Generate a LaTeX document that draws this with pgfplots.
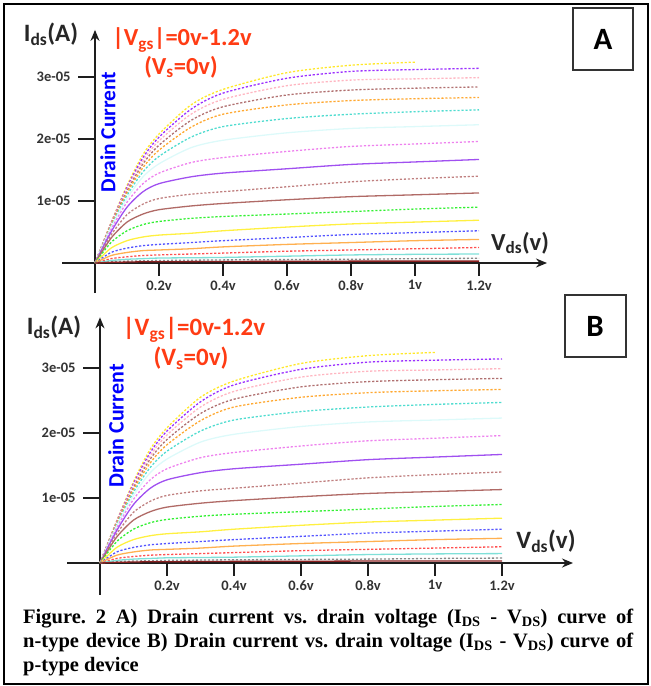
\documentclass[border=0pt]{standalone}
\usepackage{pgfplots}
\pgfplotsset{compat=1.18}
\usepackage{pgfplotstable}
\usepackage{fontspec}
\setmainfont{Carlito}
\newfontfamily\capfont{Liberation Serif}
\usetikzlibrary{arrows.meta}

\definecolor{k1}{HTML}{FFE82A}
\definecolor{k2}{HTML}{9B30FF}
\definecolor{k3}{HTML}{FFB6C1}
\definecolor{k4}{HTML}{B07070}
\definecolor{k5}{HTML}{FFA830}
\definecolor{k6}{HTML}{50DCD0}
\definecolor{k7}{HTML}{DDFAFA}
\definecolor{k8}{HTML}{EE82EE}
\definecolor{k9}{HTML}{A050F0}
\definecolor{k10}{HTML}{C08080}
\definecolor{k11}{HTML}{B06A66}
\definecolor{k12}{HTML}{33F033}
\definecolor{k13}{HTML}{FFF040}
\definecolor{k14}{HTML}{5555FF}
\definecolor{k15}{HTML}{FFB050}
\definecolor{k16}{HTML}{FF5050}
\definecolor{k17}{HTML}{7FE0D8}
\definecolor{k18}{HTML}{888888}
\definecolor{k19}{HTML}{8B2020}
\definecolor{redtxt}{HTML}{FF3C14}
\definecolor{axgray}{HTML}{1E1E1E}

% drain current in units of 1e-05 A
\pgfplotstableread{
vds  c1   c2   c3   c4   c5   c6   c7   c8   c9   c10  c11  c12  c13  c14  c15  c16   c17   c18   c19
0    0    0    0    0    0    0    0    0    0    0    0    0    0    0    0    0     0     0     0
0.05 0.65 0.64 0.63 0.62 0.61 0.59 0.57 0.54 0.50 0.45 0.40 0.33 0.24 0.17 0.12 0.07  0.04  0.02  0.01
0.1  1.25 1.22 1.19 1.16 1.13 1.09 1.04 0.98 0.90 0.78 0.66 0.52 0.36 0.24 0.17 0.10  0.06  0.03  0.015
0.15 1.75 1.70 1.65 1.60 1.54 1.47 1.39 1.28 1.15 0.95 0.79 0.62 0.42 0.28 0.20 0.12  0.07  0.035 0.02
0.2  2.08 2.03 1.97 1.90 1.82 1.72 1.60 1.45 1.28 1.04 0.86 0.67 0.45 0.30 0.21 0.13  0.08  0.04  0.02
0.3  2.55 2.48 2.40 2.30 2.19 2.03 1.86 1.62 1.39 1.11 0.92 0.72 0.48 0.33 0.23 0.145 0.085 0.045 0.022
0.4  2.80 2.74 2.64 2.52 2.40 2.20 1.98 1.70 1.45 1.15 0.96 0.75 0.52 0.36 0.26 0.16  0.09  0.05  0.025
0.6  3.07 2.98 2.86 2.71 2.55 2.33 2.10 1.80 1.52 1.23 1.02 0.79 0.58 0.41 0.30 0.19  0.11  0.055 0.027
0.8  3.19 3.09 2.95 2.79 2.62 2.40 2.17 1.88 1.59 1.31 1.07 0.83 0.63 0.46 0.33 0.21  0.13  0.06  0.03
1.0  3.24 3.12 2.97 2.82 2.65 2.44 2.20 1.92 1.63 1.36 1.10 0.87 0.66 0.49 0.36 0.23  0.14  0.07  0.03
1.2  nan  3.14 2.99 2.84 2.67 2.47 2.23 1.96 1.67 1.40 1.13 0.90 0.69 0.52 0.38 0.25  0.145 0.076 0.03
}\ivdata

\tikzset{tk/.style={line width=2.4pt, axgray}}
\pgfplotsset{
  dl/.style={line width=1.3pt, dash pattern=on 2.2pt off 1.8pt},
  sl/.style={line width=1.3pt},
  ivaxis/.style={
    axis lines=middle,
    axis line style={line width=1.8pt, axgray, -{Stealth[length=11pt,width=9pt]}},
    xtick={0.2,0.4,0.6,0.8,1.0,1.2},
    xticklabels={0.2v,0.4v,0.6v,0.8v,1v,1.2v},
    ytick={1,2,3},
    yticklabels={1e-05,2e-05,3e-05},
    major tick length=0pt,
    ticklabel style={font=\bfseries\fontsize{14.5}{14.5}\selectfont, text=black!80},
    xticklabel style={yshift=-14pt},
    yticklabel style={xshift=-21pt},
    clip=false,
    every axis plot/.append style={smooth, tension=0.45},
  },
}

\newcommand\drawcurves{%
  \addplot[k1, dl] table[x=vds, y=c1] {\ivdata};
  \addplot[k2, dl] table[x=vds, y=c2] {\ivdata};
  \addplot[k3, dl] table[x=vds, y=c3] {\ivdata};
  \addplot[k4, dl] table[x=vds, y=c4] {\ivdata};
  \addplot[k5, dl] table[x=vds, y=c5] {\ivdata};
  \addplot[k6, dl] table[x=vds, y=c6] {\ivdata};
  \addplot[k7, sl] table[x=vds, y=c7] {\ivdata};
  \addplot[k8, dl] table[x=vds, y=c8] {\ivdata};
  \addplot[k9, sl] table[x=vds, y=c9] {\ivdata};
  \addplot[k10, dl] table[x=vds, y=c10] {\ivdata};
  \addplot[k11, sl] table[x=vds, y=c11] {\ivdata};
  \addplot[k12, dl] table[x=vds, y=c12] {\ivdata};
  \addplot[k13, sl] table[x=vds, y=c13] {\ivdata};
  \addplot[k14, dl] table[x=vds, y=c14] {\ivdata};
  \addplot[k15, sl] table[x=vds, y=c15] {\ivdata};
  \addplot[k16, dl] table[x=vds, y=c16] {\ivdata};
  \addplot[k17, sl] table[x=vds, y=c17] {\ivdata};
  \addplot[k18, dl] table[x=vds, y=c18] {\ivdata};
  \addplot[k19, sl] table[x=vds, y=c19] {\ivdata};
}

\begin{document}
\frenchspacing
\begin{tikzpicture}
\useasboundingbox (0,0) rectangle (651pt,-686pt);
\draw[line width=2.2pt] (4pt,-4pt) rectangle (648pt,-684pt);

% ---- panel A  (origin at 95,263; 320pt per volt, 62pt per 1e-05 A)
\begin{axis}[ivaxis, anchor=origin, at={(95pt,-263pt)},
  x=320pt, y=62pt, xmin=-0.103, xmax=1.4125, ymin=-0.484, ymax=3.76]
  \drawcurves
\end{axis}
\draw[tk]
  (159pt,-263pt) -- (159pt,-276pt)  (223pt,-263pt) -- (223pt,-276pt)
  (287pt,-263pt) -- (287pt,-276pt)  (351pt,-263pt) -- (351pt,-276pt)
  (415pt,-263pt) -- (415pt,-276pt)  (479pt,-263pt) -- (479pt,-276pt)
  (95pt,-201pt) -- (78pt,-201pt)  (95pt,-139pt) -- (78pt,-139pt)
  (95pt,-77pt) -- (78pt,-77pt);
\node[font=\bfseries\fontsize{25}{25}\selectfont, text=black!85] at (51pt,-34pt) {I\textsubscript{ds}(A)};
\node[font=\bfseries\fontsize{24.5}{24.5}\selectfont, text=redtxt] at (182pt,-40pt) {|V\textsubscript{gs}|=0v-1.2v};
\node[font=\bfseries\fontsize{24.5}{24.5}\selectfont, text=redtxt] at (181pt,-67pt) {(V\textsubscript{s}=0v)};
\node[rotate=90, font=\bfseries\fontsize{21.5}{21.5}\selectfont, text=blue] at (108pt,-132pt) {Drain Current};
\node[font=\bfseries\fontsize{24.5}{24.5}\selectfont, text=black!85] at (520pt,-243pt) {V\textsubscript{ds}(v)};
\draw[line width=1.5pt, black!80] (573pt,-8pt) rectangle (633pt,-70pt);
\node[font=\bfseries\fontsize{31}{31}\selectfont] at (603pt,-39pt) {A};

% ---- panel B  (origin at 100,563; 335pt per volt, 65pt per 1e-05 A)
\begin{axis}[ivaxis, anchor=origin, at={(100pt,-563pt)},
  x=335pt, y=65pt, xmin=-0.0985, xmax=1.412, ymin=-0.49, ymax=3.78]
  \drawcurves
\end{axis}
\draw[tk]
  (167pt,-563pt) -- (167pt,-576pt)  (234pt,-563pt) -- (234pt,-576pt)
  (301pt,-563pt) -- (301pt,-576pt)  (368pt,-563pt) -- (368pt,-576pt)
  (435pt,-563pt) -- (435pt,-576pt)  (502pt,-563pt) -- (502pt,-576pt)
  (100pt,-498pt) -- (83pt,-498pt)  (100pt,-433pt) -- (83pt,-433pt)
  (100pt,-368pt) -- (83pt,-368pt);
\node[font=\bfseries\fontsize{25}{25}\selectfont, text=black!85] at (54pt,-327pt) {I\textsubscript{ds}(A)};
\node[font=\bfseries\fontsize{25}{25}\selectfont, text=redtxt] at (194pt,-330pt) {|V\textsubscript{gs}|=0v-1.2v};
\node[font=\bfseries\fontsize{25}{25}\selectfont, text=redtxt] at (191pt,-358pt) {(V\textsubscript{s}=0v)};
\node[rotate=90, font=\bfseries\fontsize{22}{22}\selectfont, text=blue] at (116pt,-426pt) {Drain Current};
\node[font=\bfseries\fontsize{25}{25}\selectfont, text=black!85] at (546pt,-541pt) {V\textsubscript{ds}(v)};
\draw[line width=1.5pt, black!80] (565pt,-295pt) rectangle (626pt,-357pt);
\node[font=\bfseries\fontsize{31}{31}\selectfont] at (595pt,-326pt) {B};

% ---- caption
\begin{scope}[every node/.style={anchor=base west, inner sep=0pt,
    font=\capfont\bfseries\fontsize{20.5}{24}\selectfont}]
\node at (23pt,-623pt) {\makebox[610pt][s]{Figure. 2 A) Drain current vs. drain voltage (I\textsubscript{DS} - V\textsubscript{DS}) curve of}};
\node at (23pt,-647pt) {\makebox[610pt][s]{n-type device B) Drain current vs. drain voltage (I\textsubscript{DS} - V\textsubscript{DS}) curve of}};
\node at (23pt,-671pt) {p-type device};
\end{scope}
\end{tikzpicture}
\end{document}
